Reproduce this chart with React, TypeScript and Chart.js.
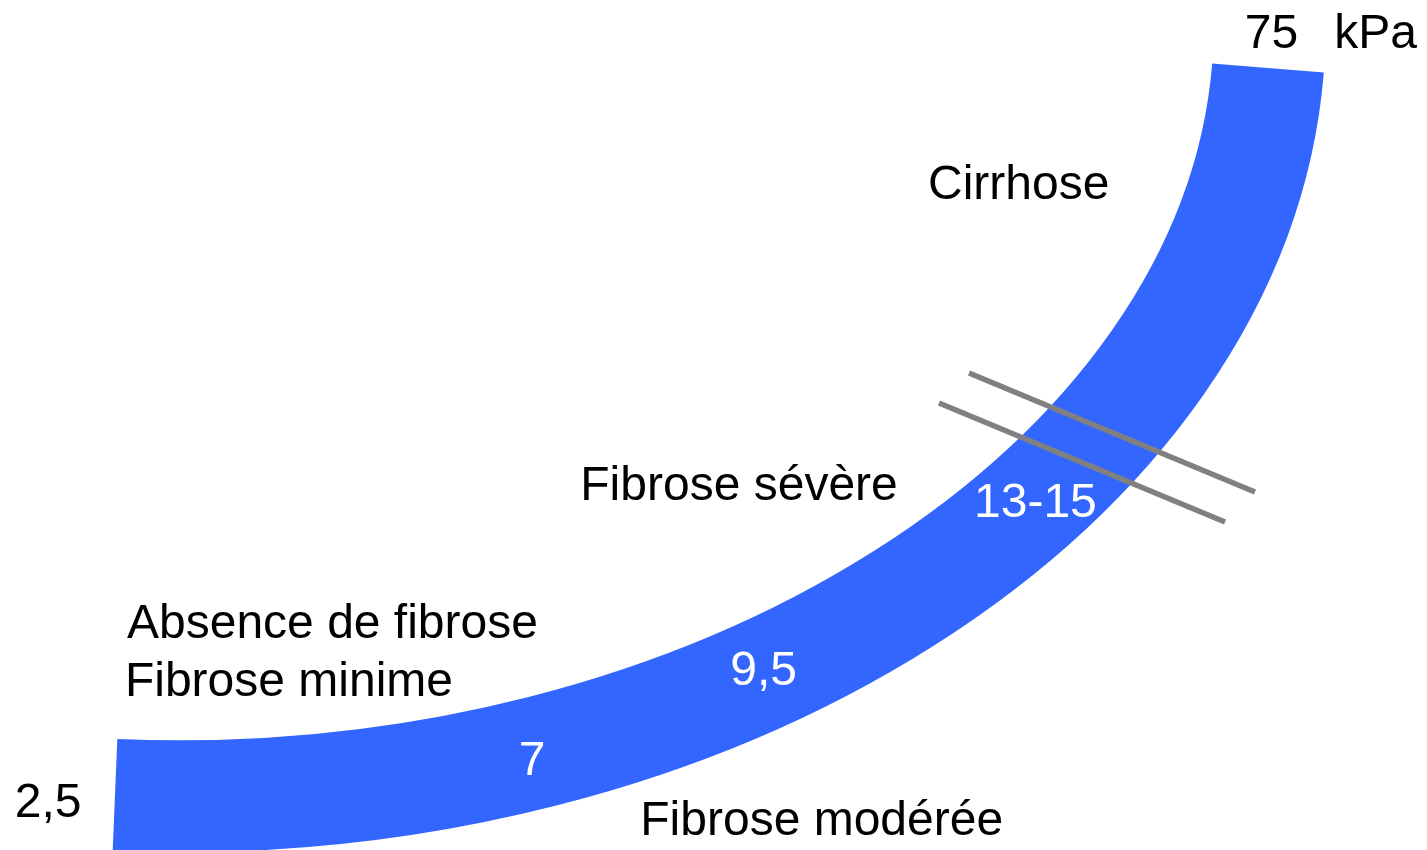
import React, { useEffect, useRef } from "react";
import { Chart, registerables } from "chart.js";

Chart.register(...registerables);

// ---- Data -------------------------------------------------------------
// Liver stiffness thresholds (kPa) shown along the band
const thresholdLabels = ["2,5", "7", "9,5", "13-15", "75"];
const unitLabel = "kPa";
// Fibrosis stages
const stageLabels = [
  "Absence de fibrose",
  "Fibrose minime",
  "Fibrose modérée",
  "Fibrose sévère",
  "Cirrhose",
];
// Elasticity band: start, two control points, end (diagram units)
const bandCtrlX = [115, 715, 1234, 1268];
const bandCtrlY = [795, 820, 488, 68];
// Two cut marks delimiting the 13-15 kPa zone
const cutLowX = [939, 1225];
const cutLowY = [403, 522];
const cutHighX = [969, 1255];
const cutHighY = [373, 492];

// ---- Layout / style -----------------------------------------------------
const W = 1427;
const H = 850;
const BLUE = "#3366FF";
const GRAY = "#808080";
const BAND_WIDTH = 112;
const FONT = "48px 'Liberation Sans', Arial, Helvetica, sans-serif";

type Lbl = { text: string; x: number; y: number; color: string };
const labels: Lbl[] = [
  { text: thresholdLabels[4], x: 1246.7, y: 48.3, color: "#000" },
  { text: unitLabel, x: 1337.3, y: 48.3, color: "#000" },
  { text: stageLabels[4], x: 930, y: 199, color: "#000" },
  { text: stageLabels[3], x: 583.3, y: 499.5, color: "#000" },
  { text: thresholdLabels[3], x: 977, y: 516.7, color: "#fff" },
  { text: stageLabels[0], x: 127, y: 638.3, color: "#000" },
  { text: stageLabels[1], x: 127.9, y: 695.5, color: "#000" },
  { text: thresholdLabels[2], x: 732.3, y: 684.5, color: "#fff" },
  { text: thresholdLabels[1], x: 520.7, y: 775, color: "#fff" },
  { text: thresholdLabels[0], x: 16.7, y: 816.7, color: "#000" },
  { text: stageLabels[2], x: 643.3, y: 834.5, color: "#000" },
];

const toPts = (xs: number[], ys: number[]) => xs.map((x, i) => ({ x, y: ys[i] }));

// Draws the curved elasticity band through the chart's scales
const bandPlugin = {
  id: "elasticityBand",
  beforeDatasetsDraw(chart: any) {
    const { ctx, scales } = chart;
    const px = bandCtrlX.map((v) => scales.x.getPixelForValue(v));
    const py = bandCtrlY.map((v) => scales.y.getPixelForValue(v));
    ctx.save();
    ctx.beginPath();
    ctx.moveTo(px[0], py[0]);
    ctx.bezierCurveTo(px[1], py[1], px[2], py[2], px[3], py[3]);
    ctx.lineWidth = BAND_WIDTH;
    ctx.lineCap = "butt";
    ctx.strokeStyle = BLUE;
    ctx.stroke();
    ctx.restore();
  },
};

const labelPlugin = {
  id: "diagramLabels",
  afterDatasetsDraw(chart: any) {
    const { ctx, scales } = chart;
    ctx.save();
    ctx.font = FONT;
    ctx.textAlign = "left";
    ctx.textBaseline = "alphabetic";
    for (const l of labels) {
      const m = ctx.measureText(l.text);
      const x = scales.x.getPixelForValue(l.x) + m.actualBoundingBoxLeft;
      ctx.fillStyle = l.color;
      ctx.fillText(l.text, x, scales.y.getPixelForValue(l.y));
    }
    ctx.restore();
  },
};

export default function App() {
  const ref = useRef<HTMLCanvasElement | null>(null);

  useEffect(() => {
    document.body.style.margin = "0";
    document.body.style.background = "#fff";
    const canvas = ref.current;
    if (!canvas) return;
    const chart = new Chart(canvas, {
      type: "line",
      data: {
        datasets: [
          {
            label: "13 kPa",
            data: toPts(cutLowX, cutLowY),
            borderColor: GRAY,
            borderWidth: 5.5,
            borderCapStyle: "butt",
            pointRadius: 0,
            fill: false,
          },
          {
            label: "15 kPa",
            data: toPts(cutHighX, cutHighY),
            borderColor: GRAY,
            borderWidth: 5.5,
            borderCapStyle: "butt",
            pointRadius: 0,
            fill: false,
          },
        ],
      },
      options: {
        animation: false,
        responsive: false,
        devicePixelRatio: 1,
        layout: { padding: 0 },
        events: [],
        plugins: {
          legend: { display: false },
          tooltip: { enabled: false },
          title: { display: false },
        },
        scales: {
          x: { type: "linear", min: 0, max: W, display: false },
          y: { type: "linear", min: 0, max: H, reverse: true, display: false },
        },
      },
      plugins: [bandPlugin, labelPlugin],
    } as any);
    return () => chart.destroy();
  }, []);

  return (
    <div style={{ position: "fixed", left: 0, top: 0, width: W, height: H, background: "#fff" }}>
      <canvas ref={ref} width={W} height={H} style={{ display: "block", width: W, height: H }} />
    </div>
  );
}
